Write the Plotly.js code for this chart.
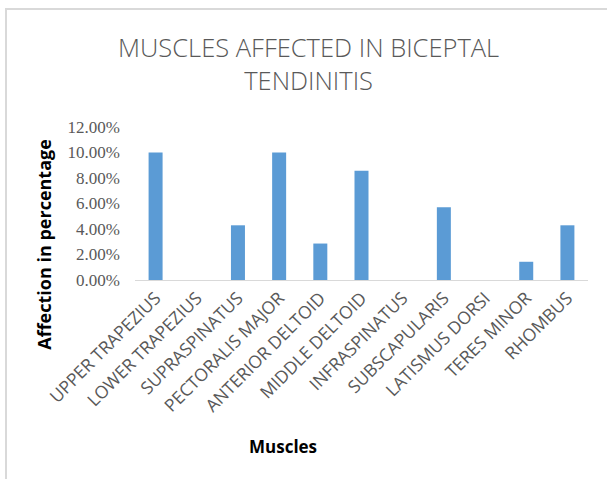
<!DOCTYPE html>
<html><head><meta charset="utf-8">
<script src="https://cdn.plot.ly/plotly-3.0.1.min.js"></script>
<style>
html,body{margin:0;padding:0;background:#fff;}
#frame{position:absolute;left:5px;top:8px;width:620px;height:480px;border-left:2px solid #d9d9d9;border-top:2px solid #d9d9d9;}
#chart{position:absolute;left:0;top:0;width:607px;height:479px;}
</style></head>
<body>
<div id="frame"></div>
<div id="chart"></div>
<script>
const categories = ["UPPER TRAPEZIUS","LOWER TRAPEZIUS","SUPRASPINATUS","PECTORALIS MAJOR","ANTERIOR DELTOID","MIDDLE DELTOID","INFRASPINATUS","SUBSCAPULARIS","LATISMUS DORSI","TERES MINOR","RHOMBUS"];
const affection = [0.1000,0,0.0429,0.1000,0.0286,0.0857,0,0.0571,0,0.0143,0.0429];
const yTickVals = [0,0.02,0.04,0.06,0.08,0.10,0.12];
const yTickText = ["0.00%","2.00%","4.00%","6.00%","8.00%","10.00%","12.00%"];
const chartTitle = 'MUSCLES AFFECTED IN BICEPTAL<br>TENDINITIS';
const xTitle = 'Muscles';
const yTitle = 'Affection in percentage';

const data = [{
  type:'bar', x:categories, y:affection,
  marker:{color:'#5b9bd5'}, hoverinfo:'x+y'
}];
const layout = {
  width:607, height:479,
  paper_bgcolor:'rgba(0,0,0,0)', plot_bgcolor:'rgba(0,0,0,0)',
  margin:{l:134.5,r:18.5,t:127,b:199},
  bargap:0.66,
  showlegend:false,
  xaxis:{
    type:'category', tickangle:-45, showgrid:false, showline:true, linecolor:'#d9d9d9', linewidth:1,
    ticks:'', tickfont:{family:'Open Sans, sans-serif', size:17.5, color:'#595959'}
  },
  yaxis:{
    range:[0,0.12], tickvals:yTickVals, ticktext:yTickText, showgrid:false, zeroline:false, showline:false,
    ticks:'', ticklabelstandoff:14,
    tickfont:{family:'Liberation Serif, serif', size:17, color:'#595959'}
  },
  annotations:[
    {text:chartTitle, xref:'paper', yref:'paper', x:0.382, y:1.415, xanchor:'center', yanchor:'middle', showarrow:false,
     font:{family:'Open Sans, sans-serif', size:25.5, color:'#595959', weight:300}},
    {text:'<b>'+xTitle+'</b>', xref:'paper', yref:'paper', x:0.327, y:-1.09, xanchor:'center', yanchor:'middle', showarrow:false,
     font:{family:'Open Sans, sans-serif', size:17, color:'#000'}},
    {text:'<b>'+yTitle+'</b>', xref:'paper', yref:'paper', x:-0.2015, y:0.235, xanchor:'center', yanchor:'middle', textangle:-90, showarrow:false,
     font:{family:'Open Sans, sans-serif', size:18, color:'#000'}}
  ]
};
Plotly.newPlot('chart', data, layout, {displayModeBar:false, staticPlot:true});
</script>
</body></html>
